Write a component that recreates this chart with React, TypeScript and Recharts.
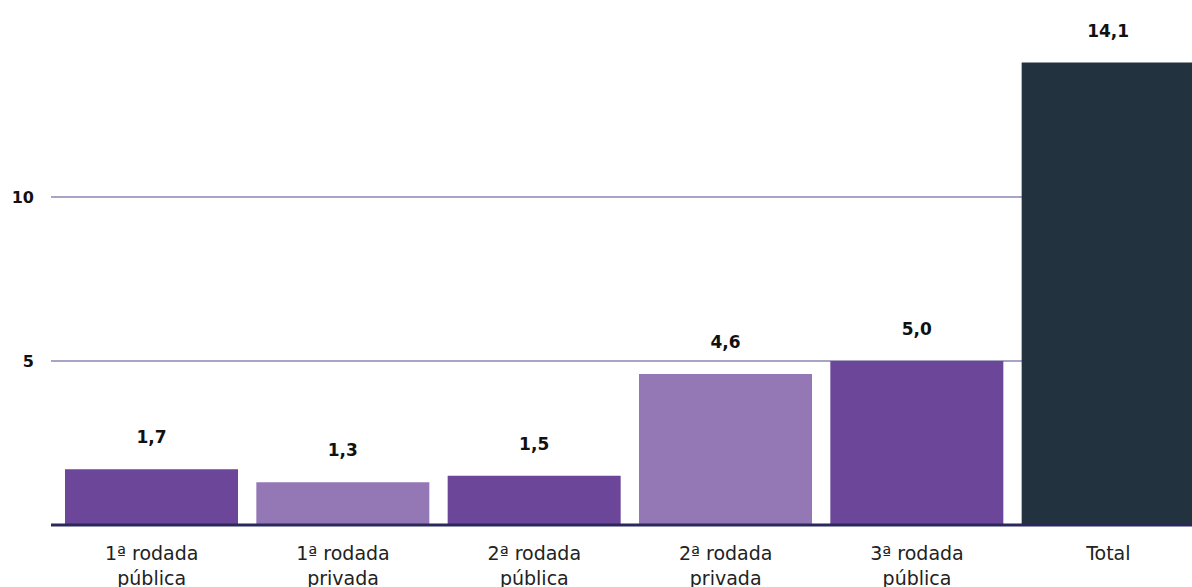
import React from 'react';
import { BarChart, Bar, XAxis, YAxis, CartesianGrid, Cell, LabelList } from 'recharts';

// Rodadas e valores (bilhões)
const categories = ['1ª rodada|pública', '1ª rodada|privada', '2ª rodada|pública', '2ª rodada|privada', '3ª rodada|pública', 'Total'];
const values = [1.7, 1.3, 1.5, 4.6, 5.0, 14.1];
const yTicks = [5, 10];

const FILLS = ['#6b4699', '#9478b5', '#6b4699', '#9478b5', '#6b4699', '#22323f'];
const FONT = '"DejaVu Sans", sans-serif';

const data = categories.map((name, i) => ({ name, value: values[i] }));

const fmt = (v: any) => Number(v).toFixed(1).replace('.', ',');

const CategoryTick = (props: any) => {
  const { x, y, payload } = props;
  const lines = String(payload.value).split('|');
  return (
    <text x={x} y={y} textAnchor="middle" fill="#222" fontSize={19} fontFamily={FONT}>
      {lines.map((l, i) => (
        <tspan key={i} x={x} dy={i === 0 ? 27 : 25}>
          {l}
        </tspan>
      ))}
    </text>
  );
};

const App: React.FC = () => {
  return (
    <div style={{ position: 'absolute', top: 0, left: 0, width: 1192, height: 587, overflow: 'hidden', background: '#fff' }}>
      <BarChart
        width={1210}
        height={587}
        data={data}
        margin={{ top: 33, right: 6, left: 0, bottom: 0 }}
        barCategoryGap={9}
      >
        <CartesianGrid vertical={false} stroke="#a8a4c6" strokeWidth={2} syncWithTicks />
        <XAxis
          dataKey="name"
          height={62}
          interval={0}
          padding={{ left: 5, right: 0 }}
          axisLine={{ stroke: '#2a285e', strokeWidth: 3 }}
          tickLine={false}
          tick={<CategoryTick />}
        />
        <YAxis
          width={51}
          domain={[0, 15]}
          ticks={yTicks}
          axisLine={false}
          tickLine={false}
          tickSize={0}
          tickMargin={17}
          tick={{ fill: '#111', fontSize: 16, fontWeight: 700, fontFamily: FONT }}
        />
        <Bar dataKey="value" isAnimationActive={false}>
          {data.map((_, i) => (
            <Cell key={i} fill={FILLS[i]} />
          ))}
          <LabelList
            dataKey="value"
            position="top"
            offset={26}
            formatter={fmt}
            fill="#111"
            fontSize={17}
            fontWeight={700}
            fontFamily={FONT}
          />
        </Bar>
      </BarChart>
    </div>
  );
};

export default App;
